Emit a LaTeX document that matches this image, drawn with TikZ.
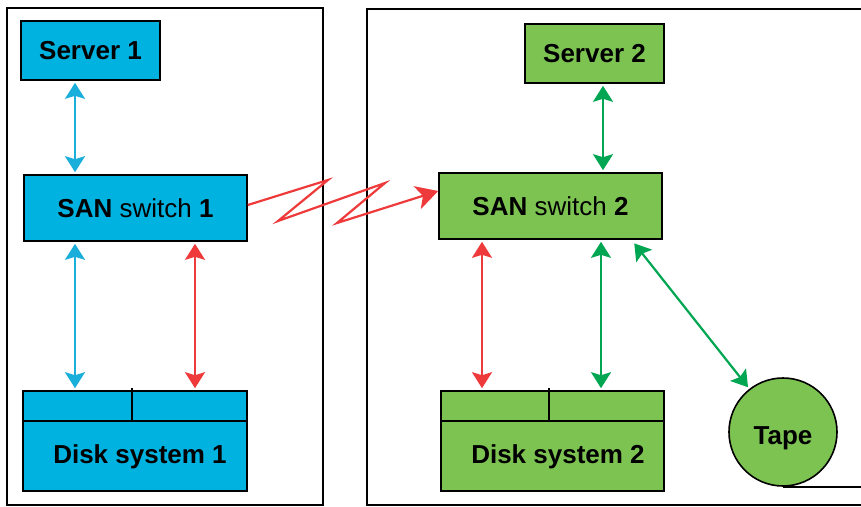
\documentclass[tikz,border=0pt]{standalone}
\usepackage{fontspec}
\setmainfont{Liberation Sans}
\usetikzlibrary{arrows.meta,calc}
\definecolor{cblue}{HTML}{00B2E0}
\definecolor{cgreen}{HTML}{7DC352}
\definecolor{ared}{HTML}{EE3A3A}
\definecolor{agreen}{HTML}{00A651}
\definecolor{ablue}{HTML}{1AAFDB}
\begin{document}
\begin{tikzpicture}[x=1pt,y=-1pt,
  box/.style={draw=black, line width=1.6pt, rectangle, inner sep=0pt, font=\fontsize{26}{30}\selectfont\bfseries},
  frame/.style={draw=black, line width=1.6pt},
  lbl/.style={inner sep=0pt, font=\fontsize{26}{30}\selectfont\bfseries},
  dbl/.style={line width=2.2pt, shorten <=2pt, shorten >=2pt, {Stealth[length=16pt,width=20pt,inset=3pt]}-{Stealth[length=16pt,width=20pt,inset=3pt]}},
  blueline/.style={dbl, draw=ablue},
  redline/.style={dbl, draw=ared},
  greenline/.style={dbl, draw=agreen}]
\useasboundingbox (0,0) rectangle (861,506);
% outer frames
\draw[frame] (7,8) rectangle (323,505);
\draw[frame] (880,9) -- (367,9) -- (367,505) -- (880,505);
% nodes
\node[box, fill=cblue, minimum width=139pt, minimum height=59pt] (server1) at (90.5,50.5) {Server 1};
\node[box, fill=cgreen, minimum width=139pt, minimum height=59pt] (server2) at (594.5,53.5) {Server 2};
\node[box, fill=cblue, minimum width=223pt, minimum height=66pt] (san1) at (135.5,208) {SAN \mdseries switch \bfseries 1};
\node[box, fill=cgreen, minimum width=223pt, minimum height=66pt] (san2) at (550.5,206) {SAN \mdseries switch \bfseries 2};
\node[box, fill=cblue, minimum width=224pt, minimum height=100pt] (disk1) at (135,441) {};
\node[box, fill=cgreen, minimum width=223pt, minimum height=100pt] (disk2) at (552.5,441) {};
\node[lbl] (disk1lbl) at (140,457) {Disk system 1};
\node[lbl] (disk2lbl) at (558,457) {Disk system 2};
\draw[line width=1.6pt] ([yshift=-31pt]disk1.north west) -- ([yshift=-31pt]disk1.north east);
\draw[line width=1.6pt] ([xshift=110pt,yshift=2pt]disk1.north west) -- ([xshift=110pt,yshift=-31pt]disk1.north west);
\draw[line width=1.6pt] ([yshift=-31pt]disk2.north west) -- ([yshift=-31pt]disk2.north east);
\draw[line width=1.6pt] ([xshift=109pt,yshift=2pt]disk2.north west) -- ([xshift=109pt,yshift=-31pt]disk2.north west);
\node[box, circle, fill=cgreen, minimum size=108pt, text height=29pt, text depth=5pt] (tape) at (783,432) {Tape};
\draw[line width=1.6pt] (tape.south) -- ++(100,0);
% connectors
\draw[blueline] ([xshift=-15.5pt]server1.south) -- ([xshift=-60.5pt]san1.north);
\draw[blueline] ([xshift=-60.5pt]san1.south) -- ([xshift=-60pt]disk1.north);
\draw[redline] ([xshift=59.5pt]san1.south) -- ([xshift=60pt]disk1.north);
\draw[greenline] ([xshift=8.5pt]server2.south) -- ([xshift=52.5pt]san2.north);
\draw[redline] ([xshift=-68.5pt]san2.south) -- ([xshift=-70.5pt]disk2.north);
\draw[greenline] ([xshift=50.5pt]san2.south) -- ([xshift=48.5pt]disk2.north);
\draw[greenline] ([xshift=82.5pt,yshift=-2pt]san2.south) -- (tape.128);
% zigzag link
\draw[ared, line width=2.2pt, line join=miter, -{Stealth[length=22pt,width=24pt,inset=6pt]}]
  ([yshift=3pt]san1.east) -- (328,180) -- (278,221) -- (385,183) -- (337,223) -- ([yshift=15pt]san2.west);
\end{tikzpicture}
\end{document}
